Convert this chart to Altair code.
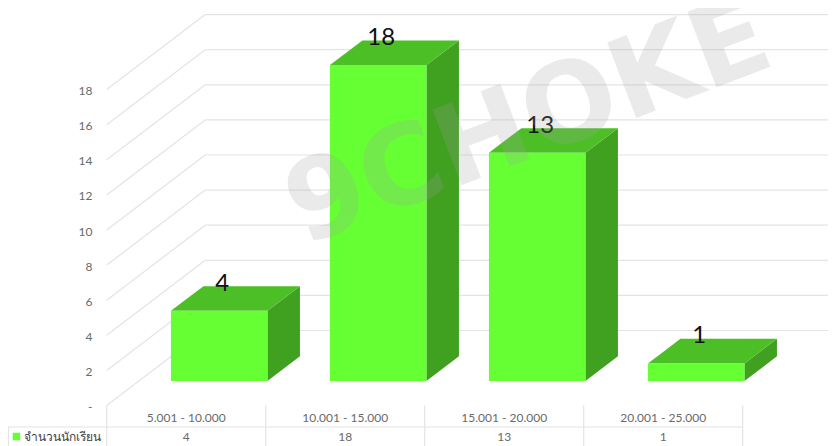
import altair as alt
import pandas as pd

categories = ["5.001 - 10.000", "10.001 - 15.000", "15.001 - 20.000", "20.001 - 25.000"]
values = [4, 18, 13, 1]
series_name = "จำนวนนักเรียน"
value_ticks = [0, 2, 4, 6, 8, 10, 12, 14, 16, 18]
watermark = "9CHOKE"

W, H = 820, 438
CAT_PX = 159.0
UNIT_PX = 17.55
X0_PX, Y0_PX = 98.7, 397.5  # chart-space position of category 0 / value 0

def xd(px):
    return (px - X0_PX) / CAT_PX

def yd(px):
    return (Y0_PX - px) / UNIT_PX

GRID = "#e4e4e4"
TXT = "#6a6a6a"
FONT = "Lato"

YAXIS = alt.Axis(values=value_ticks, domain=False, ticks=False, grid=False, title=None,
                 offset=-84, labelPadding=0, labelFont=FONT, labelFontSize=12, labelOffset=1,
                 labelColor=TXT, labelExpr="datum.value === 0 ? '-' : datum.label")
xscale = alt.Scale(domain=[xd(0), xd(W)], nice=False, zero=False)
yscale = alt.Scale(domain=[yd(H), yd(0)], nice=False, zero=False)
X = lambda f="x": alt.X(f"{f}:Q", scale=xscale, axis=None)
Y = lambda f="y": alt.Y(f"{f}:Q", scale=yscale, axis=YAXIS)

WALL_DX, WALL_DY = 98.5 / CAT_PX, 75.0 / UNIT_PX
BAR_DX, BAR_DY = 32.5 / CAT_PX, 1.4
BAR_L, BAR_W = 0.404, 0.607

# walls
wall_back = pd.DataFrame({"x": WALL_DX, "x2": xd(W), "y": [v + WALL_DY for v in value_ticks]})
wall_diag = pd.DataFrame({"x": 0.0, "x2": WALL_DX, "y": value_ticks,
                          "y2": [v + WALL_DY for v in value_ticks]})
back = alt.Chart(wall_back).mark_rule(color=GRID, strokeWidth=1.2).encode(
    x=X(), x2="x2:Q", y=Y())
diag = alt.Chart(wall_diag).mark_rule(color=GRID, strokeWidth=1.2).encode(
    x=X(), x2="x2:Q", y=Y(), y2="y2:Q")

# bars
front_rows, side_rows, top_rows, label_rows = [], [], [], []
for i, (c, v) in enumerate(zip(categories, values)):
    l, r = i + BAR_L, i + BAR_L + BAR_W
    front_rows.append({"x": l, "x2": r, "y": BAR_DY, "y2": BAR_DY + v})
    side_rows += [
        {"c": c, "x": r, "y": BAR_DY, "y2": BAR_DY + v},
        {"c": c, "x": r + BAR_DX, "y": 2 * BAR_DY, "y2": 2 * BAR_DY + v},
    ]
    top_rows += [
        {"c": c, "y": BAR_DY + v, "x": l, "x2": r},
        {"c": c, "y": 2 * BAR_DY + v, "x": l + BAR_DX, "x2": r + BAR_DX},
    ]
    label_rows.append({"x": (l + r) / 2, "y": BAR_DY + v, "t": str(v)})

front = alt.Chart(pd.DataFrame(front_rows)).mark_rect(color="#66FF33").encode(
    x=X(), x2="x2:Q", y=Y(), y2="y2:Q")
side = alt.Chart(pd.DataFrame(side_rows)).mark_area(
    color="#40A020", orient="vertical", interpolate="linear").encode(
    x=X(), y=Y(), y2="y2:Q", detail="c:N")
top = alt.Chart(pd.DataFrame(top_rows)).mark_area(
    color="#4DBF26", orient="horizontal", interpolate="linear").encode(
    y=Y(), x=X(), x2="x2:Q", detail="c:N")
bar_labels = alt.Chart(pd.DataFrame(label_rows)).mark_text(
    font=FONT, fontSize=24, color="#111111", dx=3, dy=-27, baseline="middle").encode(
    x=X(), y=Y(), text="t:N")

# data table
ROW1_Y, ROW2_Y, SPLIT_Y = yd(410), yd(428.5), yd(419)
cols = list(range(len(categories) + 1))
t_vert = alt.Chart(pd.DataFrame({"x": cols, "y": 0.0, "y2": yd(H)})).mark_rule(
    color=GRID, strokeWidth=1.2).encode(x=X(), y=Y(), y2="y2:Q")
t_left = alt.Chart(pd.DataFrame({"x": [xd(0.5)], "y": [SPLIT_Y], "y2": [yd(H)]})).mark_rule(
    color=GRID, strokeWidth=1.2).encode(x=X(), y=Y(), y2="y2:Q")
t_horiz = alt.Chart(pd.DataFrame({"x": [xd(0)], "x2": [float(len(categories))], "y": [SPLIT_Y]})).mark_rule(
    color=GRID, strokeWidth=1.2).encode(x=X(), x2="x2:Q", y=Y())
t_cat = alt.Chart(pd.DataFrame({"x": [i + 0.5 for i in range(4)], "y": ROW1_Y, "t": categories})).mark_text(
    font=FONT, fontSize=12, color=TXT, baseline="middle").encode(x=X(), y=Y(), text="t:N")
t_val = alt.Chart(pd.DataFrame({"x": [i + 0.5 for i in range(4)], "y": ROW2_Y, "t": [str(v) for v in values]})).mark_text(
    font=FONT, fontSize=12, color=TXT, baseline="middle").encode(x=X(), y=Y(), text="t:N")
t_swatch = alt.Chart(pd.DataFrame({"x": [xd(8.5)], "y": [ROW2_Y]})).mark_square(
    size=56, color="#66FF33", opacity=1).encode(x=X(), y=Y())
t_name = alt.Chart(pd.DataFrame({"x": [xd(16)], "y": [ROW2_Y], "t": [series_name]})).mark_text(
    font="Noto Sans", fontSize=12, color="#404040", align="left", baseline="middle").encode(
    x=X(), y=Y(), text="t:N")

# watermark
wm = alt.Chart(pd.DataFrame({"x": [xd(521)], "y": [yd(116)], "t": [watermark]})).mark_text(
    font="DejaVu Sans", fontWeight="bold", fontSize=111, angle=339, color="#a2a2a2",
    opacity=0.215, align="center", baseline="middle").encode(x=X(), y=Y(), text="t:N")

chart = alt.layer(
    back, diag, t_vert, t_left, t_horiz, side, top, front,
    bar_labels, t_cat, t_val, t_swatch, t_name, wm
).properties(
    width=W, height=H, padding=0, autosize=alt.AutoSizeParams(type="none"), background="white"
).configure_view(stroke=None)

chart.save("out.html", embed_options={"renderer": "svg", "actions": False})
